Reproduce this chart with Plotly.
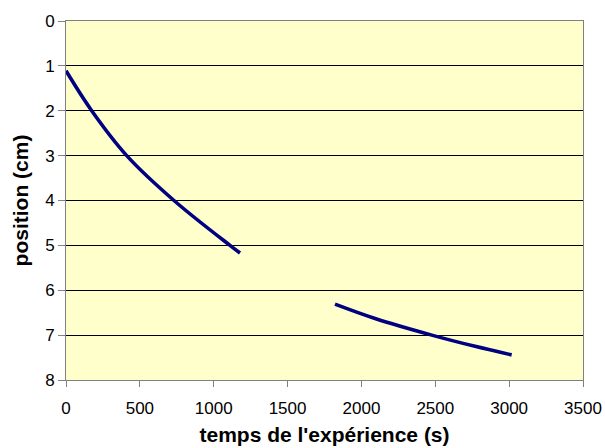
import plotly.graph_objects as go

t1 = [0, 174, 411, 731, 1110, 1178]
y1 = [1.11, 2.0, 3.0, 4.0, 5.0, 5.17]
t2 = [1821, 2092, 2476, 2769, 3017]
y2 = [6.31, 6.63, 7.0, 7.25, 7.44]

x_ticks = [0, 500, 1000, 1500, 2000, 2500, 3000, 3500]
y_ticks = [0, 1, 2, 3, 4, 5, 6, 7, 8]

fig = go.Figure()
for tx, ty in [(t1, y1), (t2, y2)]:
    fig.add_trace(go.Scatter(x=tx, y=ty, mode="lines",
                             line=dict(color="#000080", width=3.6, shape="spline", smoothing=1),
                             showlegend=False))

font = dict(family="Liberation Sans, Arial, sans-serif", size=17, color="black")
fig.update_layout(
    width=605, height=448,
    margin=dict(l=66, r=22, t=21, b=68),
    paper_bgcolor="white", plot_bgcolor="#FFFFCC",
    font=font,
    xaxis=dict(range=[0, 3500], tickvals=x_ticks, showgrid=False, zeroline=False,
               automargin=False,
               showline=True, linecolor="#808080", linewidth=1, mirror=True,
               ticks="outside", ticklen=6, tickcolor="#808080", ticklabelstandoff=7,
               title=dict(text="<b>temps de l'expérience (s)</b>", standoff=9,
                          font=dict(size=21))),
    yaxis=dict(range=[8, 0], tickvals=y_ticks, showgrid=True, gridcolor="black",
               gridwidth=1, zeroline=False, automargin=False,
               showline=True, linecolor="#808080", linewidth=1, mirror=True,
               ticks="outside", ticklen=7, tickcolor="#808080",
               title=dict(text="<b>position (cm)</b>", standoff=10,
                          font=dict(size=21))),
)
fig.write_html("out.html", config={"displayModeBar": False},
               post_script="document.body.style.margin='0';document.body.style.overflow='hidden';")
